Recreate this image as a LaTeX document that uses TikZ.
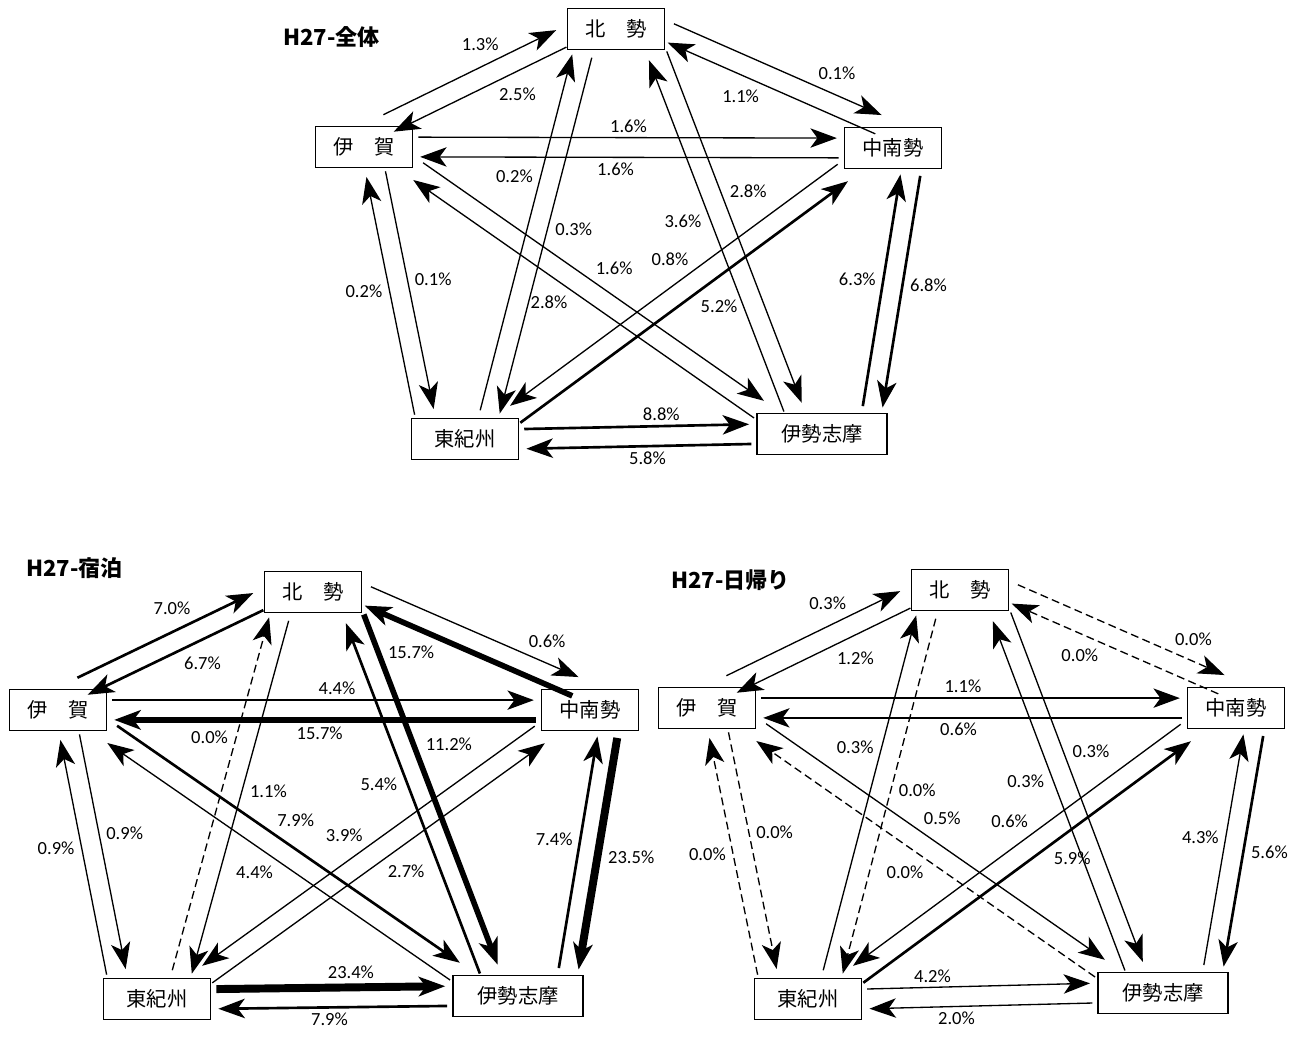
\documentclass[tikz,border=0pt]{standalone}
\usepackage{fontspec}
\usepackage{tikz}
\newfontfamily\jpfont{Noto Sans CJK JP}
\newfontfamily\numfont{Carlito}
\usetikzlibrary{arrows.meta,calc}

% two opposite flows between two areas: #1,#2 end anchors, #3 side (1 or -1),
% #4-#6 style/pos/label of #1->#2, #7-#9 style/pos/label of #2->#1
\newcommand{\flowpair}[9]{%
  \pgfmathsetlengthmacro{\pairgap}{#3*5.6pt}%
  \ifnum#3>0 \def\pairside{left}\else\def\pairside{right}\fi
  \draw[#4] ($(#1)!\pairgap!90:(#2)$) -- node[pct, auto=\pairside, pos=#5] {#6} ($(#2)!\pairgap!-90:(#1)$);
  \draw[#7] ($(#2)!\pairgap!90:(#1)$) -- node[pct, auto=\pairside, pos=#8] {#9} ($(#1)!\pairgap!-90:(#2)$);
}

\begin{document}
\begin{tikzpicture}[x=0.5669pt, y=-0.5669pt]
    % Define styles
    \tikzstyle{region} = [rectangle, draw, line width=0.7pt, minimum width=55pt, minimum height=23.2pt,
                          inner sep=0pt, font=\jpfont\fontsize{11.5}{13}\selectfont]
    \tikzstyle{charttitle} = [anchor=west, font=\jpfont\bfseries\fontsize{12.5}{15}\selectfont]
    \tikzstyle{pct} = [font=\numfont\fontsize{10.5}{12}\selectfont, inner sep=2.5pt]
    \tikzstyle{tier1} = [-{Stealth[length=15pt,width=11pt,inset=4pt]}, line width=0.75pt,
                         shorten >=4pt, shorten <=3pt]
    \tikzstyle{tier0} = [tier1, dash pattern=on 4.5pt off 2.5pt]
    \tikzstyle{tier2} = [tier1, line width=1.5pt]
    \tikzstyle{tier3} = [tier1, line width=3.2pt]
    \tikzstyle{tier4} = [tier1, line width=4.5pt]

    \useasboundingbox (0,0) rectangle (1305,1037);

    % Nodes: H27 all
    \node[region] (aH) at (616,29) {北　勢};
    \node[region] (aI) at (364,147) {伊　賀};
    \node[region] (aC) at (893,148) {中南勢};
    \node[region, minimum width=60.7pt] (aT) at (465,439) {東紀州};
    \node[region, minimum width=73.7pt] (aS) at (822,434) {伊勢志摩};

    % Nodes: H27 overnight
    \node[region] (bH) at (313,592) {北　勢};
    \node[region] (bI) at (58,710) {伊　賀};
    \node[region] (bC) at (590,710) {中南勢};
    \node[region, minimum width=60.7pt] (bT) at (157,999) {東紀州};
    \node[region, minimum width=73.7pt] (bS) at (518,996) {伊勢志摩};

    % Nodes: H27 day trip
    \node[region] (cH) at (960,590) {北　勢};
    \node[region] (cI) at (707,708) {伊　賀};
    \node[region] (cC) at (1236,708) {中南勢};
    \node[region, minimum width=60.7pt] (cT) at (808,999) {東紀州};
    \node[region, minimum width=73.7pt] (cS) at (1163,993) {伊勢志摩};

    % Connections: H27 all
    \flowpair{aI.48}{aH.188}{1}{tier1}{.68}{1.3\%}{tier1}{.42}{2.5\%}
    \flowpair{aH.358}{aC.113}{1}{tier1}{.66}{0.1\%}{tier1}{.53}{1.1\%}
    \flowpair{aI.east}{aC.west}{1}{tier1}{.50}{1.6\%}{tier1}{.53}{1.6\%}
    \flowpair{aI.297}{aT.152}{1}{tier1}{.50}{0.1\%}{tier1}{.56}{0.2\%}
    \flowpair{aH.213}{aT.42}{1}{tier1}{.45}{0.3\%}{tier1}{.62}{0.2\%}
    \flowpair{aH.332}{aS.142}{1}{tier1}{.43}{2.8\%}{tier1}{.57}{3.6\%}
    \flowpair{aI.337}{aS.160}{1}{tier1}{.49}{1.6\%}{tier1}{.53}{2.8\%}
    \flowpair{aC.205}{aT.25}{-1}{tier1}{.44}{0.8\%}{tier2}{.53}{5.2\%}
    \flowpair{aC.311}{aS.23}{1}{tier2}{.42}{6.8\%}{tier2}{.49}{6.3\%}
    \flowpair{aT.east}{aS.west}{1}{tier2}{.60}{8.8\%}{tier2}{.46}{5.8\%}

    % Connections: H27 overnight
    \flowpair{bI.48}{bH.188}{1}{tier2}{.66}{7.0\%}{tier2}{.48}{6.7\%}
    \flowpair{bH.358}{bC.113}{1}{tier1}{.72}{0.6\%}{tier3}{.62}{15.7\%}
    \flowpair{bI.east}{bC.west}{1}{tier1}{.53}{4.4\%}{tier3}{.51}{15.7\%}
    \flowpair{bI.297}{bT.152}{1}{tier1}{.47}{0.9\%}{tier1}{.58}{0.9\%}
    \flowpair{bH.213}{bT.42}{1}{tier1}{.45}{1.1\%}{tier0}{.62}{0.0\%}
    \flowpair{bH.332}{bS.142}{1}{tier3}{.41}{11.2\%}{tier2}{.57}{5.4\%}
    \flowpair{bI.337}{bS.160}{1}{tier2}{.45}{7.9\%}{tier1}{.50}{4.4\%}
    \flowpair{bC.205}{bT.25}{-1}{tier1}{.50}{3.9\%}{tier1}{.51}{2.7\%}
    \flowpair{bC.311}{bS.23}{1}{tier4}{.45}{23.5\%}{tier2}{.50}{7.4\%}
    \flowpair{bT.east}{bS.west}{1}{tier4}{.58}{23.4\%}{tier2}{.51}{7.9\%}

    % Connections: H27 day trip
    \flowpair{cI.48}{cH.188}{1}{tier1}{.70}{0.3\%}{tier1}{.45}{1.2\%}
    \flowpair{cH.358}{cC.113}{1}{tier0}{.72}{0.0\%}{tier0}{.55}{0.0\%}
    \flowpair{cI.east}{cC.west}{1}{tier1}{.48}{1.1\%}{tier1}{.53}{0.6\%}
    \flowpair{cI.297}{cT.152}{1}{tier0}{.47}{0.0\%}{tier0}{.55}{0.0\%}
    \flowpair{cH.213}{cT.42}{1}{tier0}{.45}{0.0\%}{tier1}{.59}{0.3\%}
    \flowpair{cH.332}{cS.142}{1}{tier1}{.43}{0.3\%}{tier1}{.57}{0.3\%}
    \flowpair{cI.337}{cS.160}{1}{tier1}{.45}{0.5\%}{tier0}{.49}{0.0\%}
    \flowpair{cC.205}{cT.25}{-1}{tier1}{.45}{0.6\%}{tier2}{.56}{5.9\%}
    \flowpair{cC.311}{cS.23}{1}{tier2}{.45}{5.6\%}{tier1}{.50}{4.3\%}
    \flowpair{cT.east}{cS.west}{1}{tier1}{.30}{4.2\%}{tier1}{.60}{2.0\%}

    % Annotations
    \node[charttitle] (atitle) at (277,37) {H27-全体};
    \node[charttitle] (btitle) at (20,568) {H27-宿泊};
    \node[charttitle] (ctitle) at (665,580) {H27-日帰り};
\end{tikzpicture}
\end{document}
